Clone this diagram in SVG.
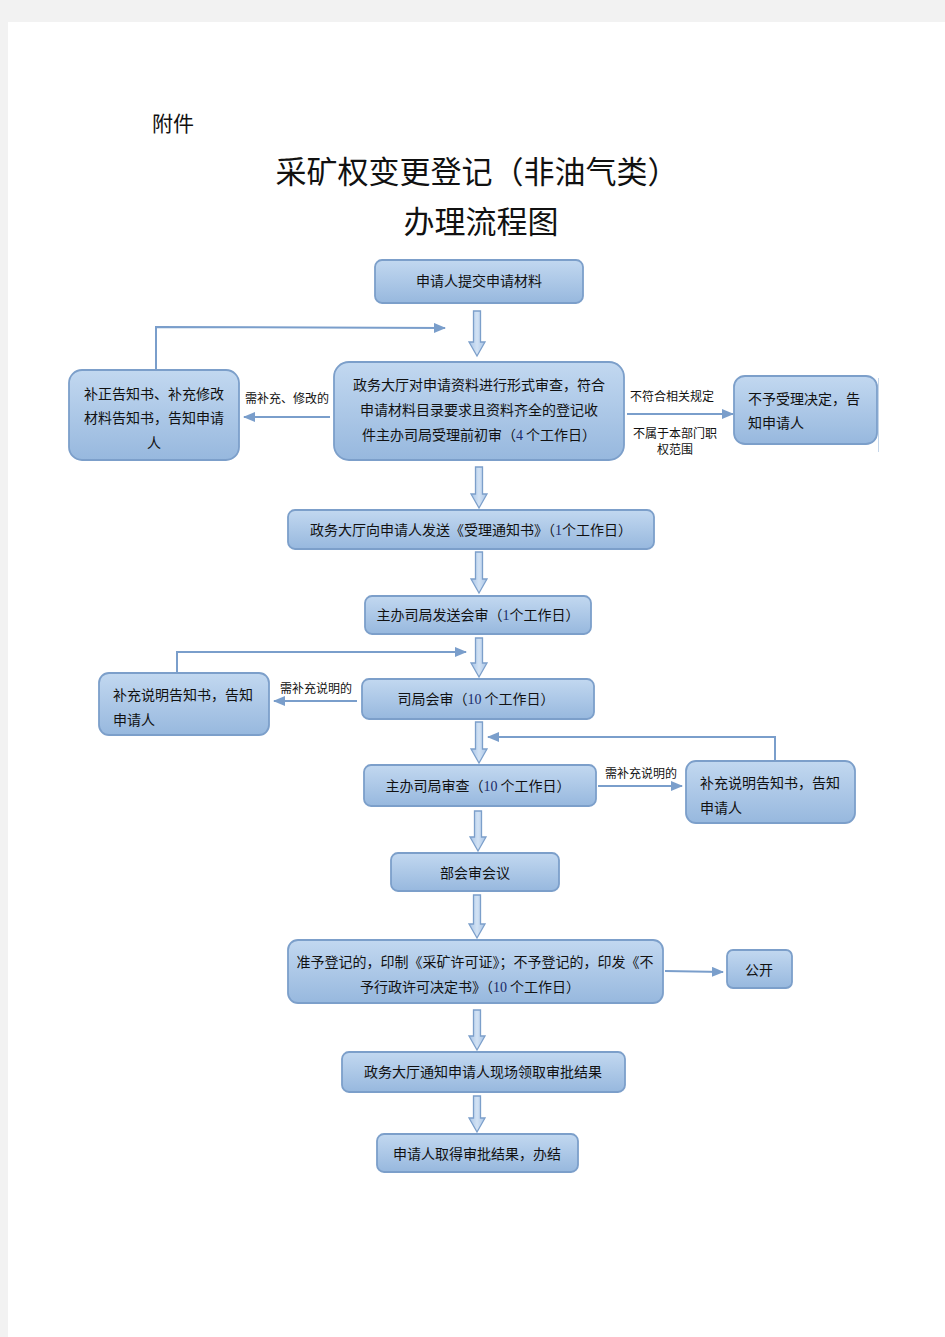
<svg xmlns="http://www.w3.org/2000/svg" width="945" height="1337" viewBox="0 0 945 1337">
<style>
.box{fill:url(#bg);stroke:#7c9fca;stroke-width:1.8}
.t{font-family:"Noto Sans CJK SC","Liberation Sans",sans-serif;font-size:14px;fill:#111}
.c{text-anchor:middle}
.s{font-family:"Noto Sans CJK SC","Liberation Sans",sans-serif;font-size:12px;fill:#111}
.n{font-family:"Liberation Serif",serif;fill:#1a2a6a}
.ln{fill:none;stroke:#7a9ecb;stroke-width:2;marker-end:url(#ah)}
.ba{fill:url(#ag);stroke:#7c9fca;stroke-width:1.3}
.ttl{font-family:"Liberation Serif","Noto Sans CJK SC",serif;font-size:31px;fill:#111;text-anchor:middle}
</style>
<defs>
<linearGradient id="bg" x1="0" y1="0" x2="0" y2="1">
<stop offset="0" stop-color="#c2d8f0"/>
<stop offset="1" stop-color="#97b8de"/>
</linearGradient>
<linearGradient id="ag" x1="0" y1="0" x2="1" y2="0">
<stop offset="0" stop-color="#a8c4e6"/>
<stop offset="0.5" stop-color="#d2e2f4"/>
<stop offset="1" stop-color="#a8c4e6"/>
</linearGradient>
<marker id="ah" markerUnits="userSpaceOnUse" markerWidth="12" markerHeight="10" refX="11" refY="5" orient="auto">
<path d="M0,0 L12,5 L0,10 Z" fill="#7a9ecb"/>
</marker>
</defs>
<rect width="945" height="1337" fill="#f2f2f2"/>
<rect x="8" y="22" width="937" height="1315" fill="#fff"/>
<text x="152" y="131" font-family="Noto Sans CJK SC, sans-serif" font-size="21" fill="#111">附件</text>
<text x="477" y="183" class="ttl">采矿权变更登记（非油气类）</text>
<text x="481" y="233" class="ttl">办理流程图</text>

<g id="connectors">
<path class="ba" d="M473.5,311 H480.5 V342 H485 L477,356 L469,342 H473.5 Z"/>
<path class="ba" d="M475.5,467 H482.5 V494 H487 L479,508 L471,494 H475.5 Z"/>
<path class="ba" d="M475.5,552 H482.5 V579 H487 L479,593 L471,579 H475.5 Z"/>
<path class="ba" d="M475.5,638 H482.5 V663 H487 L479,677 L471,663 H475.5 Z"/>
<path class="ba" d="M475.5,722 H482.5 V749 H487 L479,763 L471,749 H475.5 Z"/>
<path class="ba" d="M474.5,811 H481.5 V837 H486 L478,851 L470,837 H474.5 Z"/>
<path class="ba" d="M473.5,895 H480.5 V924 H485 L477,938 L469,924 H473.5 Z"/>
<path class="ba" d="M473.5,1010 H480.5 V1036 H485 L477,1050 L469,1036 H473.5 Z"/>
<path class="ba" d="M473.5,1096 H480.5 V1118 H485 L477,1132 L469,1118 H473.5 Z"/>
<path class="ln" d="M156,370 V327 L445,328"/>
<path class="ln" d="M330,417 H244"/>
<path class="ln" d="M627,414 H733"/>
<path class="ln" d="M177,673 V652 H466"/>
<path class="ln" d="M357,701 H274"/>
<path class="ln" d="M775,760 V737 H488"/>
<path class="ln" d="M598,786 H682"/>
<path class="ln" d="M665,971 L723,972"/>
<text x="287" y="403" class="s c">需补充、修改的</text>
<text x="672" y="401" class="s c">不符合相关规定</text>
<text x="675" y="438" class="s c">不属于本部门职</text>
<text x="675" y="454" class="s c">权范围</text>
<text x="316" y="693" class="s c">需补充说明的</text>
<text x="641" y="778" class="s c">需补充说明的</text>
</g>

<g id="n1"><rect class="box" x="375" y="260" width="208" height="43" rx="7"/>
<text x="479" y="286" class="t c">申请人提交申请材料</text></g>

<g id="n2"><rect class="box" x="334" y="362" width="290" height="98" rx="15"/>
<text x="479" y="390" class="t c">政务大厅对申请资料进行形式审查，符合</text>
<text x="479" y="415" class="t c">申请材料目录要求且资料齐全的登记收</text>
<text x="479" y="440" class="t c">件主办司局受理前初审（<tspan class="n">4</tspan> 个工作日）</text></g>

<g id="n2l"><rect class="box" x="69" y="370" width="170" height="90" rx="13"/>
<text x="154" y="399" class="t c">补正告知书、补充修改</text>
<text x="154" y="423" class="t c">材料告知书，告知申请</text>
<text x="154" y="448" class="t c">人</text></g>

<g id="n2r"><rect class="box" x="734" y="376" width="143" height="68" rx="11"/>
<line x1="878.5" y1="378" x2="878.5" y2="452" stroke="#c5d6ea" stroke-width="1"/>
<text x="748" y="404" class="t">不予受理决定，告</text>
<text x="748" y="428" class="t">知申请人</text></g>

<g id="n3"><rect class="box" x="288" y="510" width="366" height="39" rx="7"/>
<text x="471" y="535" class="t c">政务大厅向申请人发送《受理通知书》（<tspan class="n">1</tspan>个工作日）</text></g>

<g id="n4"><rect class="box" x="365" y="596" width="226" height="38" rx="7"/>
<text x="478" y="620" class="t c">主办司局发送会审（<tspan class="n">1</tspan>个工作日）</text></g>

<g id="n5"><rect class="box" x="362" y="679" width="232" height="40" rx="7"/>
<text x="476" y="704" class="t c">司局会审（<tspan class="n">10</tspan> 个工作日）</text></g>

<g id="n5l"><rect class="box" x="99" y="673" width="170" height="62" rx="10"/>
<text x="113" y="700" class="t">补充说明告知书，告知</text>
<text x="113" y="725" class="t">申请人</text></g>

<g id="n6"><rect class="box" x="364" y="765" width="232" height="41" rx="7"/>
<text x="478" y="791" class="t c">主办司局审查（<tspan class="n">10</tspan> 个工作日）</text></g>

<g id="n6r"><rect class="box" x="686" y="761" width="169" height="62" rx="10"/>
<text x="700" y="788" class="t">补充说明告知书，告知</text>
<text x="700" y="813" class="t">申请人</text></g>

<g id="n7"><rect class="box" x="391" y="853" width="168" height="38" rx="7"/>
<text x="475" y="878" class="t c">部会审会议</text></g>

<g id="n8"><rect class="box" x="288" y="940" width="375" height="63" rx="10"/>
<text x="475" y="967" class="t c" font-size="13.5">准予登记的，印制《采矿许可证》；不予登记的，印发《不</text>
<text x="470" y="992" class="t c">予行政许可决定书》（<tspan class="n">10</tspan> 个工作日）</text></g>

<g id="n8r"><rect class="box" x="727" y="950" width="65" height="38" rx="6"/>
<text x="759" y="975" class="t c">公开</text></g>

<g id="n9"><rect class="box" x="342" y="1052" width="283" height="40" rx="7"/>
<text x="483" y="1077" class="t c">政务大厅通知申请人现场领取审批结果</text></g>

<g id="n10"><rect class="box" x="377" y="1134" width="201" height="38" rx="7"/>
<text x="477" y="1159" class="t c">申请人取得审批结果，办结</text></g>
</svg>
